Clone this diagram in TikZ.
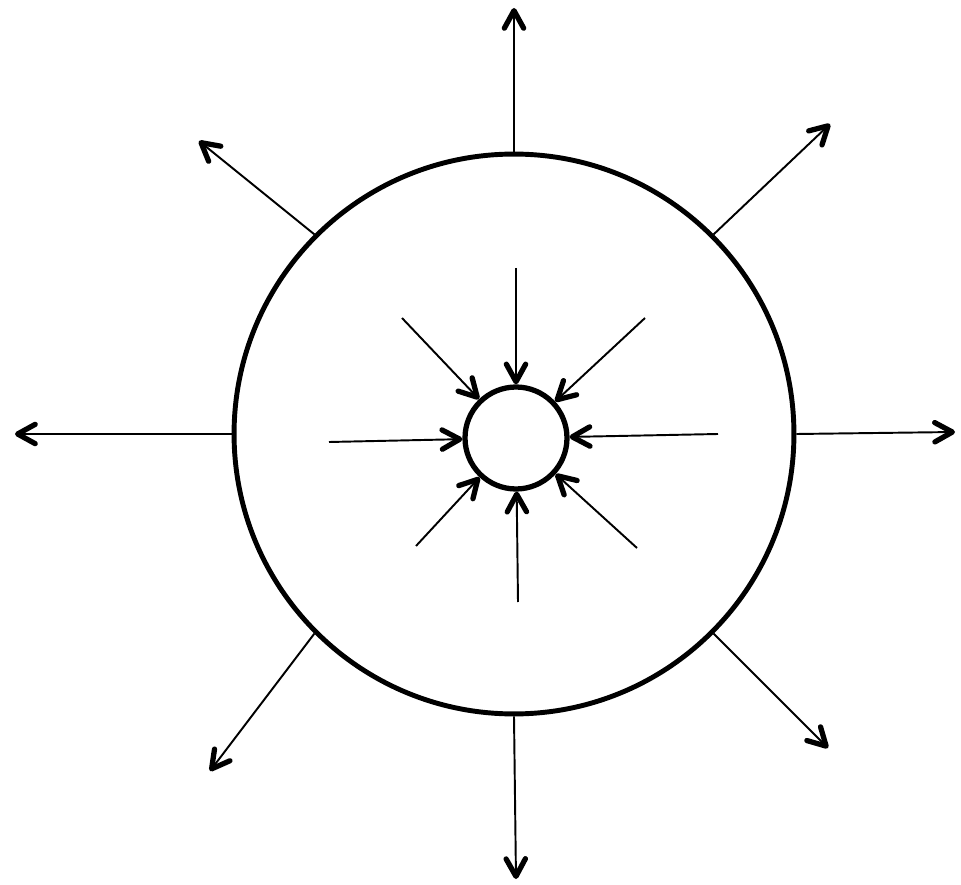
\documentclass[tikz,border=0pt]{standalone}
\usetikzlibrary{arrows.meta}

\tikzset{
  ring/.style={draw,circle,inner sep=0pt},
  flow/.style={->,line width=1.1pt},
}

\begin{document}
\begin{tikzpicture}[x=0.02cm,y=-0.02cm,>={Straight Barb[length=10pt,width=11pt,line width=3pt,round]}]
  \useasboundingbox (0,0) rectangle (961,885);
  \node[ring,line width=2.8pt,minimum size=11.2cm] (big) at (514,434) {};
  \node[ring,line width=3pt,minimum size=2.04cm] (small) at (516,438) {};
  % free ends of the outgoing arrows
  \foreach \n/\x/\y in {o1/514/8,o2/830/124,o3/955/432,o4/828/748,
                        o5/516/879,o6/210/771,o7/15/434,o8/199/141}
    \coordinate (\n) at (\x,\y);
  % starts of the incoming arrows
  \foreach \n/\x/\y in {i1/516/268,i2/645/318,i3/718/434,i4/637/548,
                        i5/518/602,i6/416/546,i7/329/442,i8/402/318}
    \coordinate (\n) at (\x,\y);
  \foreach \n/\a in {o1/90,o2/45,o3/0,o4/-45,o5/-90,o6/-135,o7/180,o8/135}
    \draw[flow] (big.\a) -- (\n);
  \foreach \n in {i1,i2,i3,i4,i5,i6,i7,i8} \draw[flow] (\n) -- (small);
\end{tikzpicture}
\end{document}
